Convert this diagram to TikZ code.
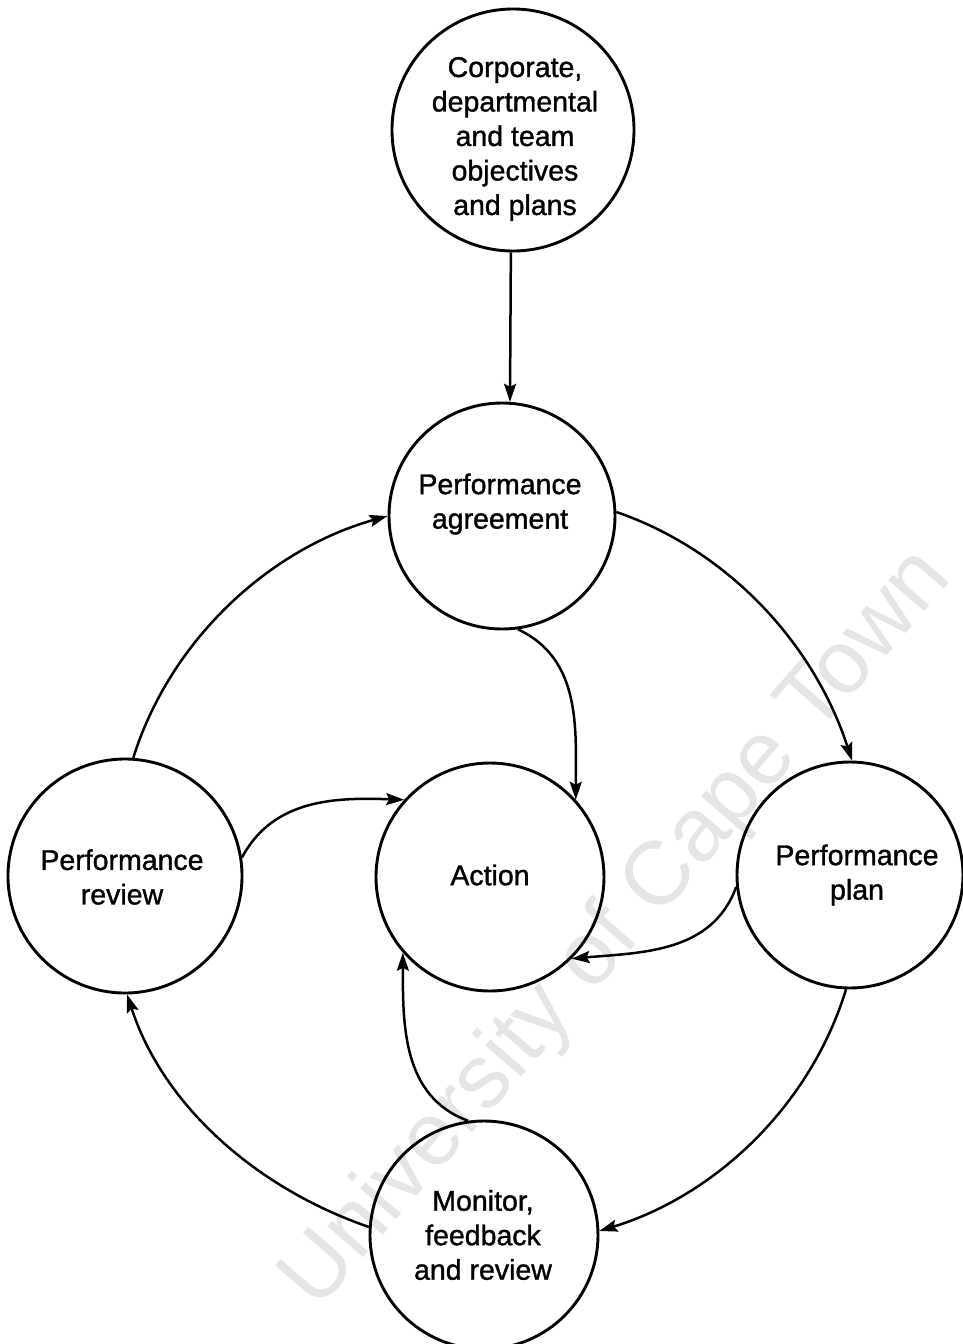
\documentclass[tikz,border=0pt]{standalone}
\usepackage{fontspec}
\setmainfont{Liberation Sans}
\newfontfamily\labelfont[FakeBold=1.2]{Liberation Sans}
\usetikzlibrary{arrows.meta}
\begin{document}
\begin{tikzpicture}[x=1pt,y=1pt,
  ring/.style={draw, circle, line width=2.9pt, inner sep=0pt, minimum size=#1},
  txt/.style={align=center, font=\labelfont\fontsize{28.5}{34.5}\selectfont},
  flow/.style={line width=2.5pt, -{Stealth[length=18pt,width=12pt,inset=3pt]}},
]
\useasboundingbox (0,0) rectangle (963,-1344);

% faint watermark behind the diagram
\node[rotate=49, text=black!10, font=\fontsize{90}{90}\selectfont] (mark) at (618,-930) {University of Cape Town};

% circles
\node[ring=242pt] (corp)    at (513,-130)  {};
\node[ring=226pt] (agree)   at (502,-516)  {};
\node[ring=228pt] (action)  at (490,-877)  {};
\node[ring=234pt] (review)  at (125,-876)  {};
\node[ring=226pt] (plan)    at (850,-875)  {};
\node[ring=228pt] (monitor) at (484,-1235) {};

% labels
\node[txt] (corptext)    at (515,-139)  {Corporate,\\departmental\\and team\\objectives\\and plans};
\node[txt] (agreetext)   at (500,-504)  {Performance\\agreement};
\node[txt] (actiontext)  at (490,-875)  {Action};
\node[txt] (reviewtext)  at (122,-877)  {Performance\\review};
\node[txt] (plantext)    at (857,-875)  {Performance\\plan};
\node[txt] (monitortext) at (483,-1235) {Monitor,\\feedback\\and review};

% objectives feed the agreement
\draw[flow] (corp.-91) -- (agree.86);

% outer cycle
\draw[flow] (review.86)  to[out=72.6, in=195.7, looseness=0.9] (agree.180);
\draw[flow] (agree.2)    to[out=-19,  in=108,   looseness=0.9] (plan.89);
\draw[flow] (plan.-92)   to[out=-107, in=17,    looseness=0.9] (monitor.2);
\draw[flow] (monitor.176) to[out=161, in=-72,   looseness=0.9] (review.-89);

% inner links into action
\draw[flow] (agree.-82)  to[out=-25, in=90]  (action.42);
\draw[flow] (review.9)   to[out=62,  in=178] (action.138);
\draw[flow] (plan.186)   to[out=250, in=5]   (action.-45);
\draw[flow] (monitor.98) to[out=160, in=-90] (action.221);
\end{tikzpicture}
\end{document}
